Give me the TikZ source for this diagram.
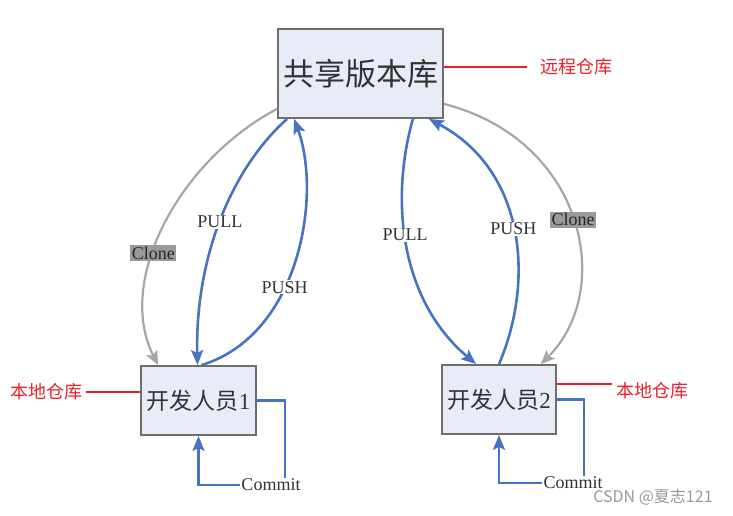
\documentclass[tikz,border=0pt]{standalone}
\usepackage{fontspec}
\setmainfont{Liberation Serif}
\newfontfamily\cjk{Noto Sans CJK SC}
\usetikzlibrary{arrows.meta}
\definecolor{BoxFill}{HTML}{E8ECF7}
\definecolor{BoxLine}{HTML}{6E6E6E}
\definecolor{TextGray}{HTML}{333333}
\definecolor{FlowBlue}{HTML}{4674C1}
\definecolor{CloneGray}{HTML}{A6A6A6}
\definecolor{CloneFill}{HTML}{9A9A9A}
\definecolor{TagRed}{HTML}{E8202A}

\begin{document}
\begin{tikzpicture}
[   x=1pt, y=-1pt,
    repo/.style={draw=BoxLine, line width=1.8pt, fill=BoxFill, text=TextGray, inner sep=0pt},
    tag/.style={text=TagRed, font=\cjk\fontsize{18}{20}\selectfont},
    lbl/.style={fill=white, inner sep=1pt, text=TextGray, font=\fontsize{18}{20}\selectfont},
    clonelbl/.style={fill=CloneFill, inner sep=1.5pt, text=black!85, font=\fontsize{18}{20}\selectfont},
    flow/.style={FlowBlue, line width=2.6pt, -{Stealth[length=15pt,width=12pt,inset=3pt]}},
    loopline/.style={FlowBlue, line width=2.6pt},
    clone/.style={CloneGray, line width=2.2pt, -{Stealth[length=14pt,width=12pt,inset=3pt]}},
    redline/.style={TagRed, line width=1.2pt}
]
    \useasboundingbox (0,0) rectangle (733,516);

    % depots
    \node[repo, minimum width=165pt, minimum height=89pt, font=\cjk\fontsize{31}{34}\selectfont]
        (shared) at (360.5,73.5) {共享版本库};
    \node[repo, minimum width=115pt, minimum height=69pt, font=\fontsize{23}{26}\selectfont]
        (dev1) at (198.5,400.5) {{\cjk 开发人员}1};
    \node[repo, minimum width=114pt, minimum height=69pt, font=\fontsize{23}{26}\selectfont]
        (dev2) at (499,399.5) {{\cjk 开发人员}2};

    % etiquettes rouges
    \node[tag] (remote) at (576,67) {远程仓库};
    \node[tag] (local1) at (46,392) {本地仓库};
    \node[tag] (local2) at (652,391) {本地仓库};
    \draw[redline] ([yshift=6.5pt]shared.east) -- ([xshift=-9pt]remote.west);
    \draw[redline] (local1.east) -- (local1.east -| dev1.west);
    \draw[redline] ([yshift=15.5pt]dev2.east) -- ([yshift=7pt]local2.west);

    % clone
    \draw[clone] ([yshift=10pt]shared.south west) .. controls (180,160) and (115,280) ..
        ([xshift=18pt]dev1.north west) node[clonelbl, pos=.6] (clone1) {Clone};
    \draw[clone] ([yshift=15pt]shared.south east) .. controls (585,140) and (615,290) ..
        ([xshift=-16pt]dev2.north east) node[clonelbl, pos=.5] (clone2) {Clone};

    % pull / push
    \draw[flow] ([xshift=10pt]shared.south west) .. controls (230,170) and (195,260) ..
        ([xshift=-1pt]dev1.north) node[lbl, pos=.5] (pull1) {PULL};
    \draw[flow] ([xshift=3pt]dev1.north) .. controls (300,335) and (322,195) ..
        ([xshift=17pt]shared.south west) node[lbl, pos=.4] (push1) {PUSH};
    \draw[flow] ([xshift=-31pt]shared.south east) .. controls (390,200) and (400,300) ..
        ([xshift=35pt]dev2.north west) node[lbl, pos=.45] (pull2) {PULL};
    \draw[flow] (dev2.north) .. controls (535,280) and (525,170) ..
        ([xshift=-15pt]shared.south east) node[lbl, pos=.5] (push2) {PUSH};

    % commit
    \node[lbl] (commit1) at (271,485) {Commit};
    \node[lbl] (commit2) at (573,483) {Commit};
    \draw[loopline] (dev1.east) -| ([xshift=14pt]commit1.north);
    \draw[flow] (commit1.west) -| (dev1.south);
    \draw[loopline] (dev2.east) -| ([xshift=11pt]commit2.north);
    \draw[flow] (commit2.west) -| (dev2.south);

    \node[font=\cjk\fontsize{16}{18}\selectfont, text=black!40] (wm) at (653,497) {CSDN @夏志121};
\end{tikzpicture}
\end{document}
